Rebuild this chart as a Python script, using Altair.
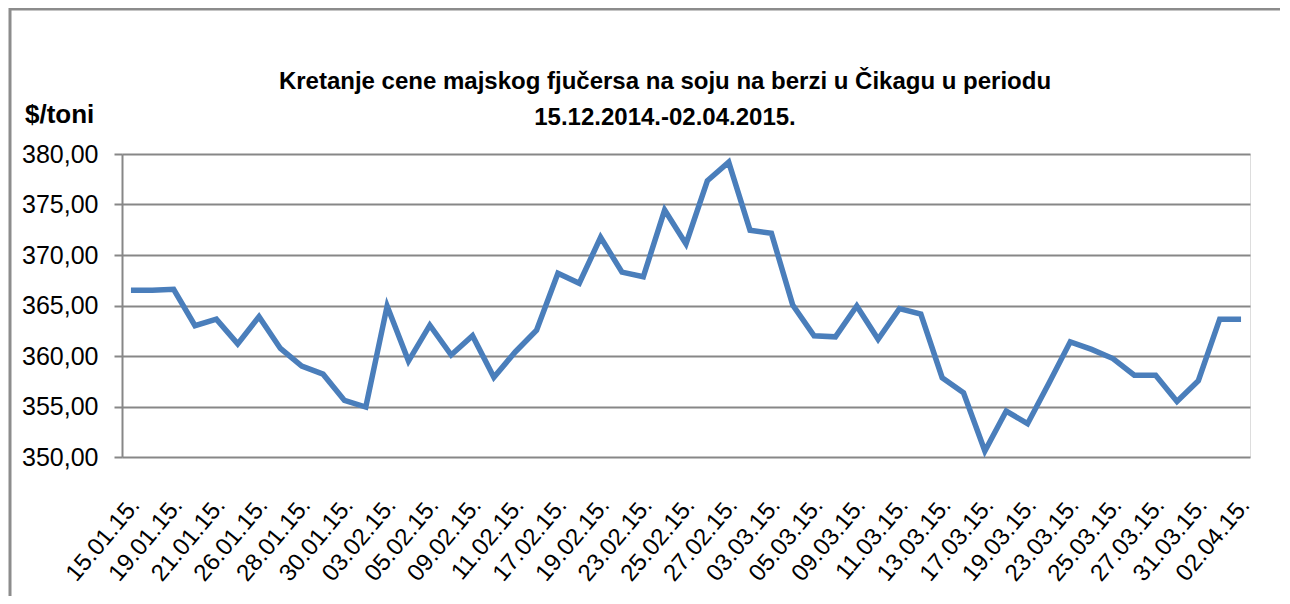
import altair as alt
import pandas as pd

# 53 trading days (every second date labelled on the axis, as in the reference)
dates = [
    "15.01.15.", "16.01.15.", "19.01.15.", "20.01.15.", "21.01.15.", "22.01.15.",
    "26.01.15.", "27.01.15.", "28.01.15.", "29.01.15.", "30.01.15.", "02.02.15.",
    "03.02.15.", "04.02.15.", "05.02.15.", "06.02.15.", "09.02.15.", "10.02.15.",
    "11.02.15.", "12.02.15.", "17.02.15.", "18.02.15.", "19.02.15.", "20.02.15.",
    "23.02.15.", "24.02.15.", "25.02.15.", "26.02.15.", "27.02.15.", "02.03.15.",
    "03.03.15.", "04.03.15.", "05.03.15.", "06.03.15.", "09.03.15.", "10.03.15.",
    "11.03.15.", "12.03.15.", "13.03.15.", "16.03.15.", "17.03.15.", "18.03.15.",
    "19.03.15.", "20.03.15.", "23.03.15.", "24.03.15.", "25.03.15.", "26.03.15.",
    "27.03.15.", "30.03.15.", "31.03.15.", "01.04.15.", "02.04.15.",
]

prices = [
    366.5, 366.5, 366.6, 363.0, 363.65, 361.2, 363.9, 360.75, 359.0, 358.2,
    355.6, 354.95, 364.95, 359.5, 363.05, 360.1, 362.0, 357.9, 360.4, 362.55,
    368.2, 367.2, 371.75, 368.3, 367.85, 374.45, 371.1, 377.35, 379.2, 372.45,
    372.15, 365.05, 362.0, 361.9, 364.95, 361.65, 364.7, 364.15, 357.85, 356.35,
    350.6, 354.55, 353.3, 357.3, 361.4, 360.65, 359.75, 358.1, 358.1, 355.5,
    357.55, 363.65, 363.65,
]

shown_labels = [
    "15.01.15.", "19.01.15.", "21.01.15.", "26.01.15.", "28.01.15.", "30.01.15.",
    "03.02.15.", "05.02.15.", "09.02.15.", "11.02.15.", "17.02.15.", "19.02.15.",
    "23.02.15.", "25.02.15.", "27.02.15.", "03.03.15.", "05.03.15.", "09.03.15.",
    "11.03.15.", "13.03.15.", "17.03.15.", "19.03.15.", "23.03.15.", "25.03.15.",
    "27.03.15.", "31.03.15.", "02.04.15.",
]

y_ticks = [350, 355, 360, 365, 370, 375, 380]

title_line1 = "Kretanje cene majskog fjučersa na soju na berzi u Čikagu u periodu"
title_line2 = "15.12.2014.-02.04.2015."
y_title = "$/toni"

df = pd.DataFrame({"datum": dates, "cena": prices})
one = pd.DataFrame({"k": [0]})

FONT = "Liberation Sans, Arial, sans-serif"
GRID = "#878787"
FRAME = "#8C8C8C"
W, H = 1128, 303

line = alt.Chart(df).mark_line(color="#4A7EBB", strokeWidth=5.5, strokeJoin="miter").encode(
    x=alt.X(
        "datum:N",
        sort=None,
        scale=alt.Scale(type="point", padding=0.42),
        axis=alt.Axis(
            values=shown_labels,
            labelAngle=-50,
            labelFont=FONT,
            labelFontSize=24,
            labelColor="#000000",
            labelPadding=44,
            labelOffset=4,
            ticks=False,
            domain=False,
            grid=False,
            title=None,
        ),
    ),
    y=alt.Y(
        "cena:Q",
        scale=alt.Scale(domain=[350, 380], nice=False, zero=False),
        axis=alt.Axis(
            values=y_ticks,
            labelExpr="replace(format(datum.value, '.2f'), '.', ',')",
            labelFont=FONT,
            labelFontSize=25,
            labelColor="#000000",
            labelPadding=16,
            tickSize=8,
            tickColor=GRID,
            tickWidth=2,
            domainColor=GRID,
            domainWidth=2,
            gridColor=GRID,
            gridWidth=2,
            title=None,
        ),
    ),
)

def text_at(txt, x, y, size, bold=True, align="center"):
    return alt.Chart(one).mark_text(
        text=txt,
        font=FONT,
        fontSize=size,
        fontWeight="bold" if bold else "normal",
        color="#000000",
        align=align,
        baseline="alphabetic",
    ).encode(x=alt.value(x), y=alt.value(y))

t1 = text_at(title_line1, 543, -65, 24)
t2 = text_at(title_line2, 543, -29, 24)
ty = text_at(y_title, -97, -31, 26, align="left")

frame_left = alt.Chart(one).mark_rule(color=FRAME, strokeWidth=3).encode(
    x=alt.value(-112), y=alt.value(-146), y2=alt.value(442)
)
frame_top = alt.Chart(one).mark_rule(color=FRAME, strokeWidth=3).encode(
    x=alt.value(-113), x2=alt.value(1160), y=alt.value(-145)
)

chart = (
    alt.layer(frame_left, frame_top, line, t1, t2, ty)
    .properties(
        width=W,
        height=H,
        autosize=alt.AutoSizeParams(type="none"),
        padding={"left": 114, "top": 146, "right": 30, "bottom": 139},
    )
    .configure_view(stroke=None)
    .configure(background="#ffffff")
)

chart.save("out.html", embed_options={"renderer": "svg", "actions": False})
